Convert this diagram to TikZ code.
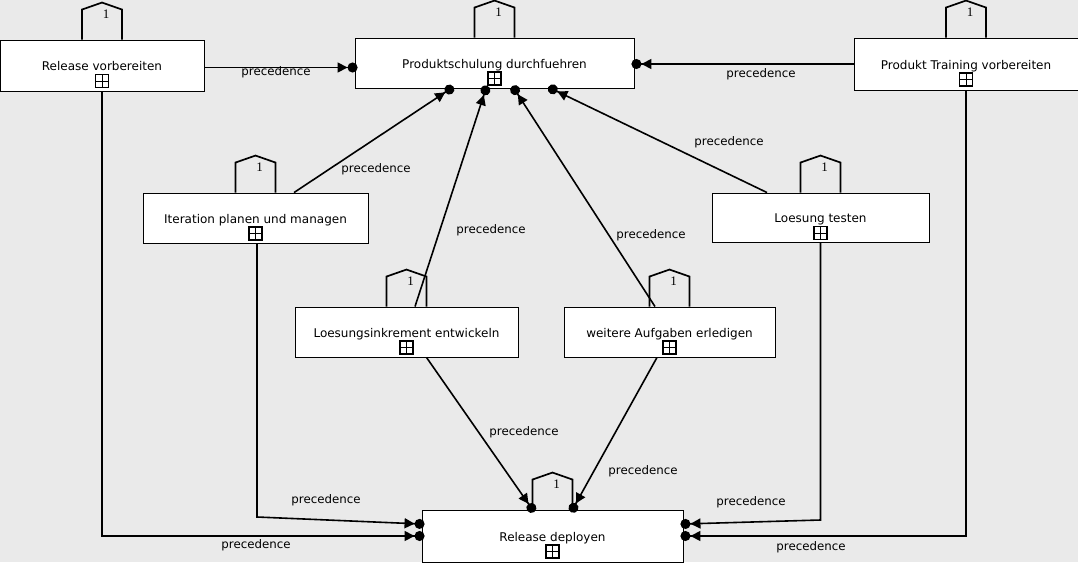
\documentclass[tikz,border=0pt]{standalone}
\usepackage{fontspec}
\setmainfont{DejaVu Sans}
\newfontfamily\capfont{Liberation Serif}
\usepackage{tikz}
\usetikzlibrary{arrows.meta}
\definecolor{canvas}{HTML}{EAEAEA}

% hat with multiplicity and the expand box of a task
\newcommand{\taskcap}[1]{%
  \draw[capline] ([xshift=-20pt]#1.north) -- ++(0,-30) -- ++(20,-7) -- ++(20,7) -- ++(0,30);
  \node[capnum] (#1-one) at ([xshift=4pt,yshift=25pt]#1.north) {1};
  \node[plusbox] (#1-plus) at ([yshift=-15.5pt]#1.center) {};
}

\begin{document}
\begin{tikzpicture}[x=1pt,y=-1pt,
    task/.style={draw, fill=white, line width=0.9pt, font=\fontsize{12}{14}\selectfont,
      text height=10pt, text depth=0pt, inner sep=0pt},
    lbl/.style={font=\fontsize{11.8}{14}\selectfont, inner sep=0pt},
    prec/.style={line width=1.6pt, -{Triangle[length=10pt,width=10pt]Circle[length=10pt]}, shorten >=-3pt},
    capline/.style={line width=1.7pt, line join=miter},
    capnum/.style={font=\capfont\fontsize{13}{14}\selectfont, inner sep=0pt},
    plusbox/.style={draw, fill=white, line width=1.5pt, minimum size=13pt, inner sep=0pt,
      path picture={\draw[line width=1pt] (path picture bounding box.north) -- (path picture bounding box.south)
        (path picture bounding box.west) -- (path picture bounding box.east);}}]
  \useasboundingbox (0,0) rectangle (1078,562);
  \fill[canvas] (0,0) rectangle (1078,562);
  % Tasks
  \node[task, minimum width=204pt, minimum height=51pt] (rv) at (102,65.5) {Release vorbereiten};
  \node[task, minimum width=279pt, minimum height=50pt] (ps) at (494.5,63) {Produktschulung durchfuehren};
  \node[task, minimum width=224pt, minimum height=52pt] (pt) at (966,64) {Produkt Training vorbereiten};
  \node[task, minimum width=225pt, minimum height=50pt] (it) at (255.5,218) {Iteration planen und managen};
  \node[task, minimum width=217pt, minimum height=49pt] (lt) at (820.5,217.5) {Loesung testen};
  \node[task, minimum width=223pt, minimum height=50pt] (li) at (406.5,332) {Loesungsinkrement entwickeln};
  \node[task, minimum width=211pt, minimum height=50pt] (wa) at (669.5,332) {weitere Aufgaben erledigen};
  \node[task, minimum width=261pt, minimum height=52pt] (rd) at (552.5,536) {Release deployen};
  \taskcap{rv}
  \taskcap{ps}
  \taskcap{pt}
  \taskcap{it}
  \taskcap{lt}
  \taskcap{li}
  \taskcap{wa}
  \taskcap{rd}
  % bends of the long connectors
  \coordinate (itbend) at (257,517);
  \coordinate (ltbend) at (820.5,520);
  % Precedence into Produktschulung
  \draw[prec] ([yshift=-2pt]rv.east) -- ([yshift=-2pt]rv.east -| ps.west);
  \draw[prec] ([yshift=0pt]pt.west) -- (pt.west -| ps.east);
  \draw[prec] ([xshift=38.5pt]it.north) -- ([xshift=-43.5pt]ps.south);
  \draw[prec] ([xshift=8.5pt]li.north) -- ([xshift=-8.5pt]ps.south);
  \draw[prec] ([xshift=-14.5pt]wa.north) -- ([xshift=19.5pt]ps.south);
  \draw[prec] ([xshift=-53.5pt]lt.north) -- ([xshift=56.5pt]ps.south);
  % Precedence into Release deployen
  \draw[prec] ([xshift=20pt]li.south) -- ([xshift=-20pt]rd.north);
  \draw[prec] ([xshift=-12.5pt]wa.south) -- ([xshift=20pt]rd.north);
  \draw[prec] (it.south -| itbend) -- (itbend) -- ([yshift=12pt]rd.west);
  \draw[prec] (rv.south) |- (rd.west);
  \draw[prec] (lt.south) -- (ltbend) -- ([yshift=12pt]rd.east);
  \draw[prec] (pt.south) |- (rd.east);
  % Labels
  \node[lbl] (p1) at (276,72) {precedence};
  \node[lbl] (p2) at (761,74) {precedence};
  \node[lbl] (p3) at (376,169) {precedence};
  \node[lbl] (p4) at (491,230) {precedence};
  \node[lbl] (p5) at (651,235) {precedence};
  \node[lbl] (p6) at (729,142) {precedence};
  \node[lbl] (p7) at (524,432) {precedence};
  \node[lbl] (p8) at (643,471) {precedence};
  \node[lbl] (p9) at (326,500) {precedence};
  \node[lbl] (p10) at (256,545) {precedence};
  \node[lbl] (p11) at (751,502) {precedence};
  \node[lbl] (p12) at (811,547) {precedence};
\end{tikzpicture}
\end{document}
